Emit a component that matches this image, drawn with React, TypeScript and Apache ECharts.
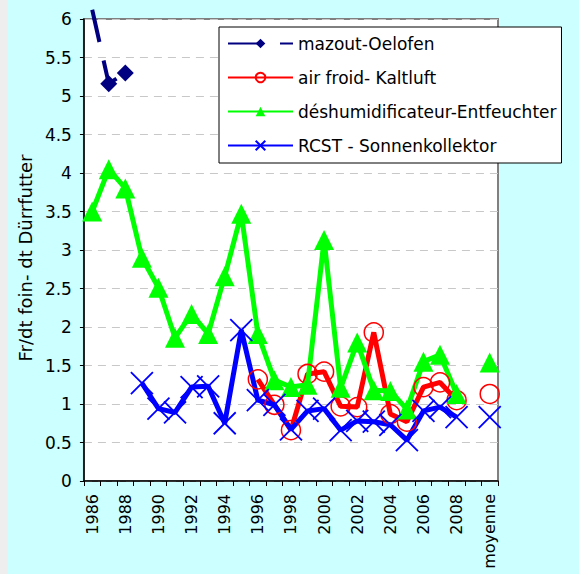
import React, { useEffect, useRef } from "react";
import * as echarts from "echarts";

const categories = [
  "1986", "1987", "1988", "1989", "1990", "1991", "1992", "1993", "1994", "1995",
  "1996", "1997", "1998", "1999", "2000", "2001", "2002", "2003", "2004", "2005",
  "2006", "2007", "2008", "", "moyenne",
];

const mazout = [6.12, 5.16, 5.3, null, null, null, null, null, null, null, null, null, null, null, null, null, null, null, null, null, null, null, null, null, null];
const airFroid = [null, null, null, null, null, null, null, null, null, null, 1.32, 0.99, 0.66, 1.39, 1.42, 0.97, 0.96, 1.93, 0.87, 0.77, 1.22, 1.28, 1.05, null, 1.13];
const deshum = [3.5, 4.05, 3.8, 2.9, 2.51, 1.86, 2.17, 1.91, 2.66, 3.47, 1.91, 1.31, 1.22, 1.25, 3.13, 1.21, 1.8, 1.18, 1.17, 0.93, 1.55, 1.64, 1.13, null, 1.54];
const rcst = [null, null, null, 1.27, 0.94, 0.89, 1.22, 1.23, 0.75, 1.96, 1.05, 0.99, 0.67, 0.91, 0.94, 0.66, 0.78, 0.77, 0.73, 0.53, 0.91, 0.96, 0.83, null, 0.83];

const seriesNames = [
  "mazout-Oelofen",
  "air froid- Kaltluft",
  "déshumidificateur-Entfeuchter",
  "RCST - Sonnenkollektor",
];

const FONT = "DejaVu Sans";
const X_PATH = "path://M0 0L10 10M10 0L0 10";

export default function App() {
  const ref = useRef<HTMLDivElement>(null);
  useEffect(() => {
    document.body.style.margin = "0";
    const chart = echarts.init(ref.current!, null, { renderer: "svg" });
    chart.setOption({
      animation: false,
      backgroundColor: "#ccffff",
      textStyle: { fontFamily: FONT },
      grid: {
        left: 74,
        right: 81,
        top: 19,
        bottom: 93,
        show: true,
        backgroundColor: "#ffffff",
        borderColor: "#808080",
        borderWidth: 2,
      },
      legend: {
        orient: "vertical",
        left: 211,
        top: 27,
        itemWidth: 65,
        itemHeight: 12,
        itemGap: 17,
        padding: [8, 5, 9, 8],
        backgroundColor: "#ffffff",
        borderColor: "#000000",
        borderWidth: 1,
        textStyle: { fontSize: 17, fontFamily: FONT, color: "#000" },
        data: seriesNames,
      },
      xAxis: {
        type: "category",
        data: categories,
        boundaryGap: true,
        axisLine: { lineStyle: { color: "#000", width: 1.5 } },
        axisTick: { show: true, interval: 0, length: 5, lineStyle: { color: "#000" } },
        axisLabel: {
          interval: 1,
          rotate: 90,
          fontSize: 16,
          fontFamily: FONT,
          color: "#000",
          margin: 13,
        },
        splitLine: { show: false },
      },
      yAxis: {
        type: "value",
        min: 0,
        max: 6,
        interval: 0.5,
        name: "Fr/dt foin- dt Dürrfutter",
        nameLocation: "middle",
        nameGap: 48,
        nameTextStyle: { fontSize: 18, fontFamily: FONT, color: "#000", padding: [0, 0, 0, -16] },
        axisLine: { show: true, lineStyle: { color: "#000", width: 1.5 } },
        axisTick: { show: true, length: 4, lineStyle: { color: "#000" } },
        axisLabel: { fontSize: 17, fontFamily: FONT, color: "#000", margin: 12 },
        splitLine: { show: true, lineStyle: { color: "#c8c8c8", type: [8, 6], width: 1 } },
      },
      series: [
        {
          name: seriesNames[0],
          type: "line",
          clip: false,
          showAllSymbol: true,
          data: mazout.map((v, i) => (i === 0 ? { value: v, symbol: "none" } : v)),
          symbol: "diamond",
          symbolSize: 17,
          lineStyle: { color: "#000080", width: 4, type: [33, 19], cap: "butt" },
          itemStyle: { color: "#000080" },
        },
        {
          name: seriesNames[1],
          type: "line",
          showAllSymbol: true,
          data: airFroid,
          symbol: "circle",
          symbolSize: 19,
          lineStyle: { color: "#ff0000", width: 5 },
          itemStyle: { color: "rgba(255,255,255,0)", borderColor: "#ff0000", borderWidth: 1.5 },
        },
        {
          name: seriesNames[2],
          type: "line",
          showAllSymbol: true,
          data: deshum,
          symbol: "triangle",
          symbolSize: 20,
          lineStyle: { color: "#00ff00", width: 5 },
          itemStyle: { color: "#00ff00" },
        },
        {
          name: seriesNames[3],
          type: "line",
          showAllSymbol: true,
          data: rcst,
          symbol: X_PATH,
          symbolSize: 22,
          symbolKeepAspect: true,
          lineStyle: { color: "#0000ff", width: 5 },
          itemStyle: { color: "#0000ff", borderColor: "#0000ff", borderWidth: 1.8 },
        },
      ],
    });
    return () => chart.dispose();
  }, []);
  return (
    <div style={{ position: "fixed", left: 0, top: 0, width: 579, height: 574, background: "#eeeeee" }}>
      <div ref={ref} style={{ position: "absolute", left: 8, top: 0, width: 571, height: 574 }} />
    </div>
  );
}
